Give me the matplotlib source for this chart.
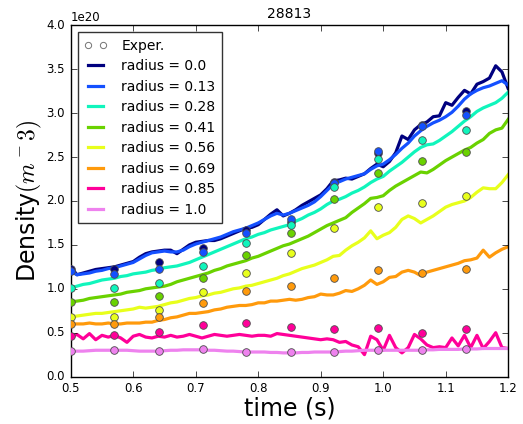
import matplotlib
matplotlib.use("Agg")
import matplotlib.pyplot as plt
import numpy as np

plt.style.use("classic")
plt.rcParams["figure.facecolor"] = "white"
plt.rcParams["savefig.facecolor"] = "white"
plt.rcParams["mathtext.fontset"] = "cm"

shot = "28813"

# radial positions and their colours
radii = ["0.0", "0.13", "0.28", "0.41", "0.56", "0.69", "0.85", "1.0"]
colors = ["#00007f", "#1450ff", "#10f5bc", "#6ad200", "#e8ff1c", "#ff9a0c", "#ff0099", "#ee82ee"]

# simulation time grid (s)
t_sim = np.linspace(0.5, 1.2, 71)

# simulated density, units of 1e20 m^-3
dens_00 = [1.25, 1.16, 1.18, 1.20, 1.22, 1.23, 1.24, 1.25, 1.27, 1.29,
           1.31, 1.36, 1.40, 1.42, 1.43, 1.44, 1.44, 1.40, 1.45, 1.50,
           1.53, 1.54, 1.55, 1.55, 1.57, 1.60, 1.63, 1.66, 1.69, 1.70,
           1.73, 1.79, 1.85, 1.90, 1.83, 1.86, 1.90, 1.95, 1.99, 2.03,
           2.07, 2.14, 2.23, 2.24, 2.26, 2.25, 2.28, 2.31, 2.37, 2.42,
           2.39, 2.45, 2.55, 2.74, 2.70, 2.81, 2.87, 2.90, 2.96, 2.97,
           3.12, 3.09, 3.18, 3.26, 3.22, 3.33, 3.36, 3.40, 3.54, 3.47,
           3.28]
dens_13 = [1.20, 1.16, 1.17, 1.18, 1.20, 1.21, 1.23, 1.24, 1.26, 1.28,
           1.30, 1.34, 1.38, 1.41, 1.42, 1.43, 1.42, 1.42, 1.44, 1.48,
           1.51, 1.53, 1.55, 1.57, 1.59, 1.62, 1.65, 1.67, 1.69, 1.72,
           1.75, 1.79, 1.83, 1.86, 1.84, 1.86, 1.89, 1.92, 1.95, 1.99,
           2.05, 2.12, 2.19, 2.22, 2.25, 2.27, 2.29, 2.31, 2.36, 2.40,
           2.42, 2.47, 2.53, 2.60, 2.66, 2.74, 2.80, 2.85, 2.89, 2.92,
           2.96, 3.01, 3.08, 3.16, 3.22, 3.26, 3.29, 3.31, 3.34, 3.37,
           3.32]
dens_28 = [1.01, 1.03, 1.05, 1.06, 1.08, 1.10, 1.11, 1.12, 1.14, 1.15,
           1.17, 1.18, 1.19, 1.21, 1.22, 1.24, 1.25, 1.26, 1.28, 1.30,
           1.33, 1.36, 1.39, 1.42, 1.45, 1.48, 1.51, 1.54, 1.57, 1.59,
           1.62, 1.64, 1.67, 1.69, 1.71, 1.73, 1.77, 1.80, 1.84, 1.87,
           1.91, 1.96, 2.00, 2.02, 2.05, 2.09, 2.12, 2.16, 2.21, 2.25,
           2.28, 2.34, 2.39, 2.44, 2.50, 2.56, 2.61, 2.64, 2.65, 2.69,
           2.74, 2.79, 2.85, 2.91, 2.96, 3.02, 3.06, 3.09, 3.12, 3.17,
           3.24]
dens_41 = [0.85, 0.86, 0.87, 0.89, 0.90, 0.91, 0.92, 0.93, 0.94, 0.96,
           0.97, 0.98, 1.00, 1.01, 1.02, 1.03, 1.05, 1.08, 1.10, 1.12,
           1.14, 1.16, 1.18, 1.21, 1.23, 1.26, 1.28, 1.30, 1.32, 1.35,
           1.37, 1.40, 1.43, 1.46, 1.49, 1.51, 1.54, 1.57, 1.60, 1.64,
           1.68, 1.72, 1.75, 1.78, 1.81, 1.87, 1.92, 1.97, 2.03, 2.04,
           2.06, 2.12, 2.17, 2.21, 2.25, 2.29, 2.33, 2.32, 2.36, 2.41,
           2.46, 2.50, 2.54, 2.58, 2.61, 2.66, 2.70, 2.77, 2.81, 2.83,
           2.93]
dens_56 = [0.68, 0.69, 0.70, 0.71, 0.72, 0.72, 0.73, 0.74, 0.75, 0.76,
           0.77, 0.79, 0.78, 0.79, 0.80, 0.82, 0.84, 0.85, 0.87, 0.89,
           0.90, 0.92, 0.93, 0.95, 0.96, 0.98, 1.00, 1.01, 1.03, 1.04,
           1.06, 1.08, 1.10, 1.12, 1.15, 1.17, 1.20, 1.23, 1.25, 1.27,
           1.30, 1.33, 1.37, 1.38, 1.44, 1.49, 1.53, 1.58, 1.66, 1.57,
           1.61, 1.64, 1.70, 1.79, 1.83, 1.80, 1.75, 1.79, 1.83, 1.88,
           1.93, 1.96, 1.98, 2.00, 2.04, 2.10, 2.15, 2.14, 2.14, 2.21,
           2.30]
dens_69 = [0.60, 0.60, 0.60, 0.61, 0.60, 0.60, 0.61, 0.60, 0.60, 0.61,
           0.61, 0.61, 0.62, 0.62, 0.64, 0.65, 0.67, 0.68, 0.70, 0.72,
           0.72, 0.73, 0.74, 0.76, 0.77, 0.79, 0.80, 0.81, 0.81, 0.82,
           0.84, 0.84, 0.86, 0.86, 0.87, 0.88, 0.87, 0.88, 0.90, 0.91,
           0.94, 0.93, 0.93, 0.95, 0.98, 0.97, 1.00, 1.04, 1.10, 1.05,
           1.08, 1.13, 1.14, 1.19, 1.21, 1.19, 1.15, 1.19, 1.21, 1.23,
           1.25, 1.27, 1.29, 1.32, 1.33, 1.35, 1.44, 1.36, 1.41, 1.45,
           1.48]
dens_85 = [0.46, 0.48, 0.43, 0.49, 0.42, 0.47, 0.45, 0.47, 0.44, 0.39,
           0.46, 0.48, 0.45, 0.44, 0.46, 0.45, 0.47, 0.45, 0.46, 0.48,
           0.46, 0.44, 0.46, 0.48, 0.47, 0.46, 0.47, 0.48, 0.47, 0.46,
           0.47, 0.47, 0.46, 0.49, 0.48, 0.47, 0.46, 0.45, 0.44, 0.43,
           0.42, 0.43, 0.42, 0.39, 0.40, 0.36, 0.34, 0.25, 0.46, 0.42,
           0.30, 0.47, 0.33, 0.27, 0.33, 0.48, 0.43, 0.36, 0.33, 0.34,
           0.33, 0.44, 0.35, 0.47, 0.33, 0.47, 0.32, 0.40, 0.50, 0.33,
           0.32]
dens_100 = [0.29, 0.29, 0.29, 0.295, 0.30, 0.30, 0.30, 0.30, 0.30, 0.30,
            0.295, 0.29, 0.29, 0.29, 0.29, 0.295, 0.30, 0.30, 0.305, 0.305,
            0.305, 0.305, 0.30, 0.30, 0.295, 0.29, 0.29, 0.285, 0.28, 0.28,
            0.28, 0.28, 0.275, 0.275, 0.27, 0.27, 0.27, 0.275, 0.275, 0.28,
            0.28, 0.28, 0.28, 0.285, 0.29, 0.29, 0.295, 0.30, 0.30, 0.30,
            0.30, 0.30, 0.30, 0.30, 0.30, 0.30, 0.30, 0.305, 0.305, 0.31,
            0.31, 0.31, 0.31, 0.315, 0.315, 0.315, 0.32, 0.32, 0.32, 0.32,
            0.32]
dens_sim = [dens_00, dens_13, dens_28, dens_41, dens_56, dens_69, dens_85, dens_100]

# measured profiles (Thomson), units of 1e20 m^-3
t_exp = [0.5, 0.570, 0.641, 0.711, 0.781, 0.852, 0.922, 0.992, 1.062, 1.133]
exp_00 = [1.23, 1.22, 1.30, 1.46, 1.67, 1.76, 2.22, 2.55, 2.87, 3.02]
exp_13 = [1.20, 1.17, 1.22, 1.42, 1.64, 1.80, 2.20, 2.57, 2.85, 2.98]
exp_28 = [1.01, 1.01, 1.07, 1.26, 1.52, 1.73, 2.16, 2.48, 2.69, 2.81]
exp_41 = [0.85, 0.85, 0.92, 1.12, 1.38, 1.64, 2.02, 2.32, 2.46, 2.56]
exp_56 = [0.68, 0.68, 0.76, 0.96, 1.18, 1.41, 1.69, 1.93, 1.98, 2.06]
exp_69 = [0.60, 0.60, 0.68, 0.84, 0.97, 1.03, 1.12, 1.21, 1.18, 1.23]
exp_85 = [0.46, 0.47, 0.51, 0.59, 0.61, 0.57, 0.54, 0.55, 0.50, 0.54]
exp_100 = [0.29, 0.30, 0.29, 0.31, 0.28, 0.28, 0.28, 0.30, 0.30, 0.31]
dens_exp = [exp_00, exp_13, exp_28, exp_41, exp_56, exp_69, exp_85, exp_100]

fig = plt.figure(figsize=(5.23, 4.24), dpi=100)
ax = fig.add_axes([0.1352, 0.1118, 0.8365, 0.8283])

# legend entry for the measurements
ax.plot([], [], "o", mfc="white", mec="0.45", mew=0.7, ms=4.5, label="Exper.")

for r, c, d in zip(radii, colors, dens_sim):
    ax.plot(t_sim, np.array(d) * 1e20, "-", color=c, lw=2.3, label="radius = " + r)

for c, d in zip(colors, dens_exp):
    ax.plot(t_exp, np.array(d) * 1e20, "o", color=c, mec="0.3", mew=0.6, ms=5.5,
            zorder=5)

ax.set_xlim(0.5, 1.2)
ax.set_ylim(0, 4e20)
ax.set_xticks(np.arange(0.5, 1.21, 0.1))
ax.set_yticks(np.arange(0, 4.01e20, 0.5e20))
ax.tick_params(labelsize=8.5)
ax.yaxis.get_offset_text().set_fontsize(8.5)

ax.set_title(shot, fontsize=10)
ax.set_xlabel("time (s)", fontsize=17, labelpad=1)
ax.set_ylabel("Density$(m^-3)$", fontsize=17, labelpad=2)

leg = ax.legend(loc="upper left", fontsize=10, numpoints=2, handlelength=1.7,
                handletextpad=1.0, labelspacing=0.47, borderpad=0.45)
leg.get_frame().set_edgecolor("0.2")

fig.savefig("out.png", dpi=100)
